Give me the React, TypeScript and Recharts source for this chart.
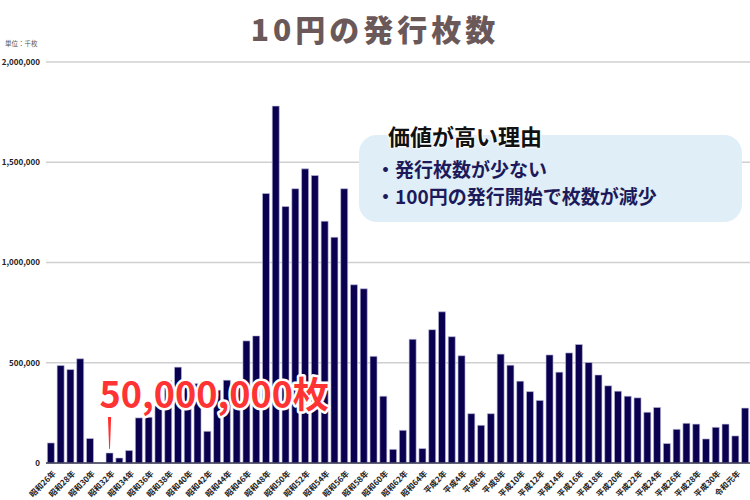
import { BarChart, Bar, XAxis, YAxis, CartesianGrid, ReferenceDot } from 'recharts'

const FONT = '"Noto Sans CJK JP", "Noto Sans", sans-serif'

// 年号
const years = [
  '昭和26年', '昭和27年', '昭和28年', '昭和29年', '昭和30年', '昭和31年', '昭和32年', '昭和33年',
  '昭和34年', '昭和35年', '昭和36年', '昭和37年', '昭和38年', '昭和39年', '昭和40年', '昭和41年',
  '昭和42年', '昭和43年', '昭和44年', '昭和45年', '昭和46年', '昭和47年', '昭和48年', '昭和49年',
  '昭和50年', '昭和51年', '昭和52年', '昭和53年', '昭和54年', '昭和55年', '昭和56年', '昭和57年',
  '昭和58年', '昭和59年', '昭和60年', '昭和61年', '昭和62年', '昭和63年', '昭和64年',
  '平成元年', '平成2年', '平成3年', '平成4年', '平成5年', '平成6年', '平成7年', '平成8年',
  '平成9年', '平成10年', '平成11年', '平成12年', '平成13年', '平成14年', '平成15年', '平成16年',
  '平成17年', '平成18年', '平成19年', '平成20年', '平成21年', '平成22年', '平成23年', '平成24年',
  '平成25年', '平成26年', '平成27年', '平成28年', '平成29年', '平成30年', '平成31年',
  '令和元年', '令和2年',
]

// 発行枚数 (千枚)
const issued = [
  100000, 486000, 466000, 520000, 122000, 0, 50000, 25000,
  62000, 225000, 228000, 284000, 411000, 478000, 388000, 396000,
  158000, 363000, 413000, 383000, 609000, 634000, 1344000, 1780000,
  1279000, 1368000, 1467000, 1434000, 1206000, 1126000, 1368000, 889000,
  869000, 532000, 333000, 68000, 163000, 617000, 72000,
  665000, 754000, 630000, 535000, 246000, 188000, 246000, 543000,
  488000, 408000, 356000, 312000, 539000, 453000, 549000, 591000,
  501000, 439000, 385000, 358000, 333000, 325000, 253000, 277000,
  97000, 168000, 198000, 194000, 120000, 178000, 194000,
  135000, 274000,
]

const yTicks = [0, 500000, 1000000, 1500000, 2000000]

const reasons = ['・発行枚数が少ない', '・100円の発行開始で枚数が減少']

const data = years.map((y, i) => ({ year: y, count: issued[i] }))

const XTick = ({ x, y, payload }: any) => (
  <text
    x={x + 5.5}
    y={y + 11}
    transform={`rotate(-45 ${x + 5.5} ${y + 11})`}
    textAnchor="end"
    fontSize={8}
    fontWeight="bold"
    fill="#222"
    fontFamily={FONT}
  >
    {payload.value}
  </text>
)

// 昭和32年の注記
const Callout = ({ cx, cy }: any) => (
  <g>
    <polygon points={`${cx - 1.6},${cy - 36} ${cx + 1.6},${cy - 36} ${cx + 0.4},${cy - 4} ${cx - 0.4},${cy - 4}`} fill="#ff3030" />
    <text
      x={cx - 10}
      y={cy - 45}
      fontSize={36}
      fontWeight="bold"
      fill="#ff3333"
      stroke="#fff"
      strokeWidth={5}
      paintOrder="stroke"
      strokeLinejoin="round"
      fontFamily={FONT}
    >
      50,000,000枚
    </text>
  </g>
)

export default function App() {
  return (
    <div style={{ position: 'absolute', left: 0, top: 0, width: 750, height: 500, background: '#fff', fontFamily: FONT }}>
      <div style={{ position: 'absolute', left: 0, top: 10, width: 750, textAlign: 'center', fontSize: 30, fontWeight: 900, color: '#6b5858', letterSpacing: 4, lineHeight: '36px' }}>
        10円の発行枚数
      </div>
      <div style={{ position: 'absolute', left: 5, top: 38, fontSize: 6.5, color: '#555' }}>単位：千枚</div>
      <BarChart width={750} height={500} data={data} margin={{ top: 62, right: 0, bottom: 0, left: 0 }} barCategoryGap="14%">
        <CartesianGrid vertical={false} stroke="#d0d0d0" strokeWidth={1.5} />
        <XAxis dataKey="year" interval={1} height={37} tickLine={false} tickSize={0} tickMargin={0} axisLine={{ stroke: '#3a3a55', strokeWidth: 1.5 }} tick={<XTick />} />
        <YAxis
          width={46}
          domain={[0, 2000000]}
          ticks={yTicks}
          tickFormatter={(v: number) => v.toLocaleString('en-US')}
          axisLine={false}
          tickLine={false}
          tickSize={0}
          tickMargin={6}
          tick={{ fontSize: 8, fontWeight: 'bold', fill: '#222', fontFamily: FONT }}
        />
        <Bar dataKey="count" fill="#0a0050" stroke="#c0c0dc" strokeWidth={0.6} isAnimationActive={false} />
        <ReferenceDot x="昭和32年" y={50000} r={0} ifOverflow="visible" shape={(p: any) => <Callout {...p} />} />
      </BarChart>
      <div style={{ position: 'absolute', left: 359, top: 135, width: 383, height: 87, background: '#e0eef7', borderRadius: 18 }} />
      <div style={{ position: 'absolute', left: 388, top: 122, fontSize: 22, fontWeight: 'bold', color: '#111', lineHeight: '26px', textShadow: '0 0 3px #fff, 0 0 3px #fff, 0 0 3px #fff' }}>
        価値が高い理由
      </div>
      {reasons.map((r, i) => (
        <div key={r} style={{ position: 'absolute', left: 376, top: 157 + i * 27, fontSize: 19, fontWeight: 'bold', color: '#1c1a5a', lineHeight: '24px', whiteSpace: 'nowrap' }}>
          {r}
        </div>
      ))}
    </div>
  )
}
